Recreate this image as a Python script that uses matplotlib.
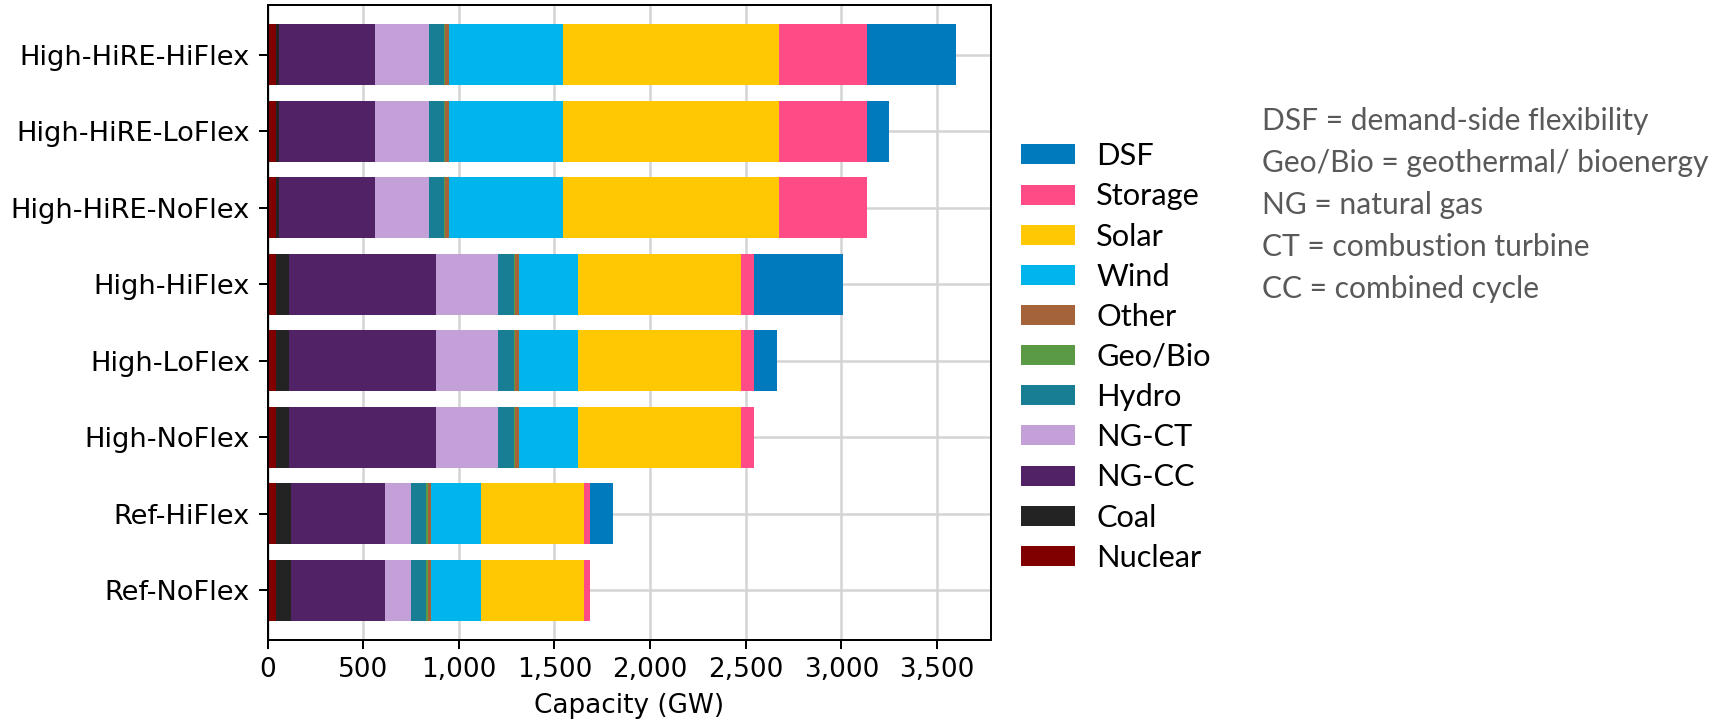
import numpy as np
import matplotlib
matplotlib.use('Agg')
import matplotlib.pyplot as plt
from matplotlib.ticker import StrMethodFormatter

scenarios = ['Ref-NoFlex', 'Ref-HiFlex', 'High-NoFlex', 'High-LoFlex', 'High-HiFlex',
             'High-HiRE-NoFlex', 'High-HiRE-LoFlex', 'High-HiRE-HiFlex']

# installed capacity by technology (GW), one value per scenario
nuclear = [45, 45, 45, 45, 45, 45, 45, 45]
coal = [77, 77, 66, 66, 66, 14, 14, 14]
ng_cc = [493, 493, 768, 768, 768, 502, 502, 502]
ng_ct = [133, 133, 326, 326, 326, 281, 281, 281]
hydro = [82, 82, 82, 82, 82, 82, 82, 82]
geo_bio = [8, 8, 9, 9, 9, 5, 5, 5]
other = [17, 17, 17, 17, 17, 18, 18, 18]
wind = [263, 263, 308, 308, 308, 596, 596, 596]
solar = [539, 539, 854, 854, 854, 1130, 1130, 1130]
storage = [30, 30, 68, 68, 68, 461, 461, 461]
dsf = [0, 117, 0, 119, 468, 0, 118, 467]

techs = ['Nuclear', 'Coal', 'NG-CC', 'NG-CT', 'Hydro', 'Geo/Bio', 'Other',
         'Wind', 'Solar', 'Storage', 'DSF']
series = [nuclear, coal, ng_cc, ng_ct, hydro, geo_bio, other, wind, solar, storage, dsf]
colors = ['#800000', '#232323', '#512265', '#c3a1d8', '#177e93', '#5a9a44', '#a5633a',
          '#00b5ec', '#ffc803', '#ff4b86', '#0079bd']

notes = ['DSF = demand-side flexibility',
         'Geo/Bio = geothermal/ bioenergy',
         'NG = natural gas',
         'CT = combustion turbine',
         'CC = combined cycle']

plt.rcParams['font.size'] = 10.5
plt.rcParams['ytick.labelsize'] = 10.9

fig = plt.figure(figsize=(1725 / 180, 722 / 180), dpi=180)
ax = fig.add_axes([0.1551, 0.1136, 0.4192, 0.8795])

y = np.arange(len(scenarios))
left = np.zeros(len(scenarios))
bars = []
for name, vals, col in zip(techs, series, colors):
    b = ax.barh(y, vals, height=0.8, left=left, color=col, label=name, linewidth=0, zorder=2)
    bars.append(b)
    left += np.array(vals)

ax.set_yticks(y)
ax.set_yticklabels(scenarios)
ax.set_ylim(-0.65, 7.65)
ax.set_xlim(0, left.max() * 1.05)
ax.xaxis.set_major_formatter(StrMethodFormatter('{x:,.0f}'))
ax.set_xlabel('Capacity (GW)')
ax.grid(True, color='#d4d4d4', linewidth=1.0, zorder=0)
ax.set_axisbelow(True)

leg = fig.legend(bars[::-1], techs[::-1], loc='upper left',
                 bbox_to_anchor=(0.5919, 0.803), frameon=False,
                 prop={'family': 'Lato', 'size': 12.3},
                 handlelength=1.76, handleheight=0.62, handletextpad=0.68,
                 labelspacing=0.395, borderpad=0, borderaxespad=0)

for i, line in enumerate(notes):
    fig.text(0.7316, 1 - (121 + 42 * i) / 722, line, family='Lato', size=12,
             color='#595959', va='center', ha='left')

fig.savefig('out.png', dpi=180)
